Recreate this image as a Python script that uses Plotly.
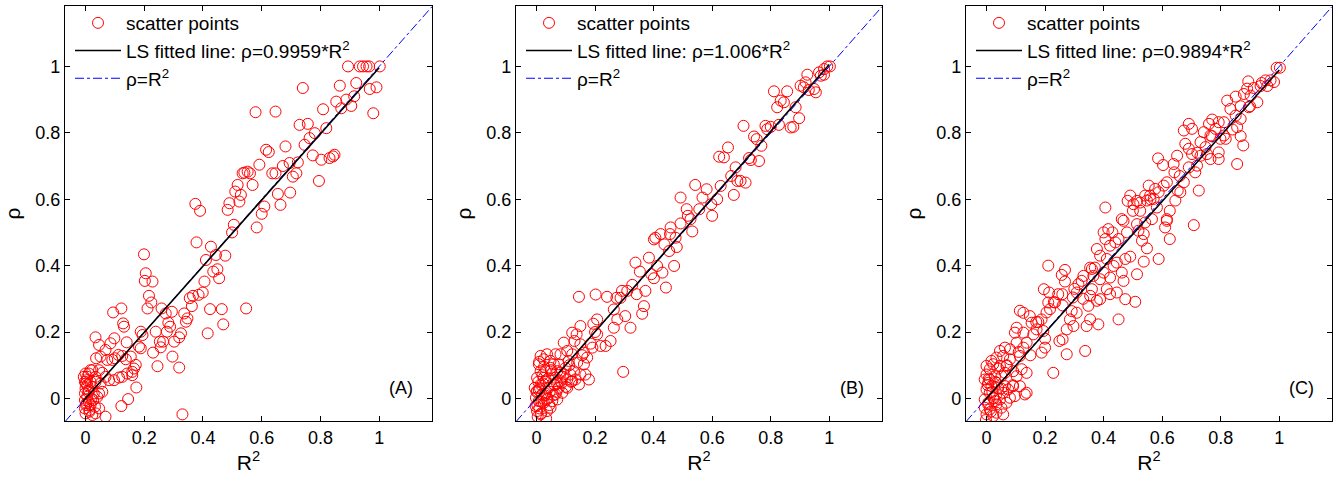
import plotly.graph_objects as go

# ---------------- data ----------------
panel_labels = ["(A)", "(B)", "(C)"]
fit_slopes = [0.9959, 1.006, 0.9894]
fit_slope_text = ["0.9959", "1.006", "0.9894"]
tick_vals = [0, 0.2, 0.4, 0.6, 0.8, 1]
tick_text = ["0", "0.2", "0.4", "0.6", "0.8", "1"]
axis_range_x = [-0.07, 1.18]
axis_range_y = [-0.068, 1.182]
fit_x = [-0.01, 1.0]
diag_x = [-0.07, 1.18]

a_r2 = [0.894, 0.934, 0.945, 0.957, 0.966, 1.002, 0.922, 0.866, 0.74, 0.968, 0.991, 0.98, 0.579, 0.647,
        0.915, 0.854, 0.888, 0.905, 0.871, 0.809, 0.82, 0.729, 0.757, 0.763, 0.781, 0.746, 0.774, 0.803,
        0.831, 0.843, 0.848, 0.795, 0.681, 0.615, 0.624, 0.592, 0.672, 0.695, 0.723, 0.718, 0.706, 0.697,
        0.655, 0.664, 0.636, 0.647, 0.609, 0.6, 0.583, 0.569, 0.56, 0.552, 0.541, 0.535, 0.518, 0.51,
        0.529, 0.524, 0.49, 0.484, 0.505, 0.499, 0.374, 0.39, 0.378, 0.427, 0.41, 0.444, 0.476, 0.449,
        0.435, 0.455, 0.405, 0.399, 0.385, 0.366, 0.355, 0.362, 0.336, 0.347, 0.342, 0.424, 0.464, 0.547,
        0.469, 0.416, 0.325, 0.319, 0.302, 0.296, 0.319, 0.33, 0.199, 0.205, 0.202, 0.228, 0.216, 0.224,
        0.211, 0.122, 0.094, 0.128, 0.131, 0.259, 0.273, 0.294, 0.282, 0.288, 0.277, 0.239, 0.253, 0.264,
        0.256, 0.23, 0.245, 0.188, 0.194, 0.182, 0.188, 0.14, 0.098, 0.085, 0.034, 0.046, 0.068, 0.051,
        0.036, 0.074, 0.091, 0.1, 0.112, 0.125, 0.137, 0.154, 0.171, 0.165, 0.159, 0.159, 0.142, 0.125,
        0.114, 0.097, 0.08, 0.068, 0.057, 0.046, 0.023, 0.034, 0.051, 0.057, 0.046, 0.173, 0.145, 0.122,
        0.068, 0.034, 0.046, -0.006, 0.0, 0.006, -0.002, 0.006, 0.0, 0.011, -0.002, 0.006, -0.002, 0.011,
        0.002, -0.002, 0.014, 0.0, 0.023, 0.017, 0.023, 0.028, 0.026, 0.011, 0.017, 0.034, 0.04, 0.017,
        0.032, 0.004, 0.009, 0.003, 0.013, 0.02, 0.001]
a_rho = [1.0, 1.0, 1.0, 1.0, 1.0, 1.0, 0.95, 0.942, 0.935, 0.932, 0.937, 0.859, 0.862, 0.864,
         0.91, 0.894, 0.9, 0.881, 0.874, 0.871, 0.814, 0.824, 0.827, 0.784, 0.799, 0.764, 0.732, 0.719,
         0.724, 0.729, 0.734, 0.655, 0.759, 0.749, 0.742, 0.704, 0.7, 0.709, 0.711, 0.678, 0.668, 0.62,
         0.616, 0.583, 0.678, 0.678, 0.578, 0.556, 0.515, 0.643, 0.678, 0.683, 0.68, 0.678, 0.643, 0.623,
         0.613, 0.593, 0.588, 0.568, 0.523, 0.5, 0.586, 0.565, 0.47, 0.457, 0.417, 0.432, 0.43, 0.389,
         0.382, 0.362, 0.352, 0.319, 0.312, 0.309, 0.302, 0.278, 0.256, 0.241, 0.231, 0.269, 0.269, 0.271,
         0.223, 0.196, 0.196, 0.184, 0.171, 0.126, 0.093, -0.048, 0.434, 0.377, 0.354, 0.352, 0.309, 0.289,
         0.271, 0.271, 0.259, 0.226, 0.216, 0.271, 0.256, 0.261, 0.228, 0.216, 0.201, 0.201, 0.171, 0.171,
         0.154, 0.138, 0.097, 0.201, 0.191, 0.156, 0.151, 0.169, 0.181, 0.166, 0.184, 0.161, 0.146, 0.126,
         0.121, 0.116, 0.116, 0.121, 0.131, 0.128, 0.118, 0.126, 0.101, 0.09, 0.08, 0.07, 0.075, 0.065,
         0.063, 0.055, 0.055, 0.065, 0.077, 0.085, 0.085, 0.05, 0.045, 0.02, 0.015, 0.033, -0.002, -0.023,
         -0.055, -0.045, -0.03, 0.065, 0.075, 0.065, 0.05, 0.04, 0.03, 0.025, 0.015, 0.005, -0.005, -0.01,
         -0.02, -0.03, -0.035, -0.045, -0.05, 0.05, 0.035, 0.015, -0.005, 0.075, 0.085, 0.065, 0.005, -0.02,
         -0.025, 0.055, 0.02, -0.015, -0.04, 0.0, 0.045]

b_r2 = [0.993, 1.002, 0.982, 0.965, 0.971, 0.982, 0.925, 0.919, 0.902, 0.913, 0.948, 0.954, 0.93, 0.811,
        0.856, 0.834, 0.845, 0.822, 0.885, 0.897, 0.868, 0.877, 0.828, 0.782, 0.788, 0.8, 0.707, 0.743,
        0.752, 0.768, 0.76, 0.732, 0.726, 0.654, 0.624, 0.64, 0.68, 0.665, 0.697, 0.714, 0.686, 0.674,
        0.629, 0.617, 0.597, 0.581, 0.567, 0.556, 0.6, 0.542, 0.492, 0.513, 0.517, 0.532, 0.526, 0.492,
        0.475, 0.458, 0.456, 0.424, 0.406, 0.401, 0.437, 0.453, 0.479, 0.47, 0.442, 0.43, 0.412, 0.401,
        0.392, 0.384, 0.372, 0.361, 0.367, 0.353, 0.338, 0.342, 0.327, 0.31, 0.292, 0.303, 0.321, 0.296,
        0.287, 0.273, 0.264, 0.276, 0.264, 0.253, 0.241, 0.202, 0.145, 0.207, 0.194, 0.207, 0.219, 0.236,
        0.191, 0.15, 0.137, 0.122, 0.13, 0.15, 0.162, 0.173, 0.093, 0.105, 0.082, 0.065, 0.036, 0.008,
        0.048, 0.076, 0.099, 0.128, 0.15, 0.179, 0.167, 0.145, 0.122, 0.105, 0.088, 0.065, 0.071, 0.048,
        0.036, 0.025, 0.014, 0.002, 0.059, 0.042, 0.025, 0.014, 0.002, 0.008, -0.003, 0.019, 0.031, 0.065,
        0.082, 0.093, 0.116, 0.133, 0.048, 0.071, 0.002, -0.006, -0.002, 0.014, 0.031, 0.054, 0.036, 0.076,
        0.105, 0.082, 0.059, 0.025, 0.014, 0.11, 0.139, 0.122, 0.162, 0.004, 0.01, 0.02, 0.028, 0.006,
        0.016, 0.038, 0.045, 0.052, 0.003, 0.022, 0.012, 0.033, 0.058, 0.07, 0.09, 0.044, 0.026, 0.008,
        0.0, 0.017, 0.04, 0.062, 0.085, 0.1, 0.118, 0.009, 0.03, 0.05, 0.068, 0.112, 0.156, 0.185, 0.2]
b_rho = [1.0, 1.0, 0.992, 0.982, 0.972, 0.975, 0.975, 0.952, 0.942, 0.937, 0.932, 0.922, 0.929, 0.925,
         0.925, 0.897, 0.892, 0.877, 0.877, 0.844, 0.816, 0.818, 0.824, 0.821, 0.811, 0.818, 0.821, 0.789,
         0.781, 0.761, 0.715, 0.718, 0.724, 0.756, 0.728, 0.726, 0.696, 0.67, 0.655, 0.65, 0.655, 0.613,
         0.64, 0.6, 0.585, 0.63, 0.605, 0.57, 0.55, 0.643, 0.605, 0.57, 0.55, 0.503, 0.54, 0.527,
         0.484, 0.515, 0.495, 0.495, 0.484, 0.479, 0.464, 0.444, 0.456, 0.399, 0.334, 0.379, 0.399, 0.362,
         0.374, 0.424, 0.324, 0.255, 0.278, 0.382, 0.409, 0.314, 0.342, 0.324, 0.324, 0.248, 0.213, 0.08,
         0.303, 0.303, 0.268, 0.238, 0.213, 0.173, 0.306, 0.313, 0.306, 0.238, 0.225, 0.193, 0.158, 0.158,
         0.153, 0.218, 0.193, 0.198, 0.173, 0.163, 0.138, 0.123, 0.168, 0.143, 0.133, 0.133, 0.133, 0.103,
         0.113, 0.103, 0.092, 0.082, 0.072, 0.057, 0.072, 0.042, 0.052, 0.032, 0.017, 0.012, -0.003, -0.028,
         -0.038, -0.013, -0.048, -0.038, 0.042, 0.032, 0.062, 0.042, 0.022, -0.008, -0.023, 0.012, 0.082, 0.062,
         0.052, 0.072, 0.072, 0.057, 0.092, 0.082, 0.062, 0.032, 0.002, 0.082, 0.052, -0.008, -0.003, 0.032,
         0.057, 0.078, 0.103, 0.118, 0.128, 0.113, 0.108, 0.133, 0.103, -0.055, -0.03, 0.07, 0.01, 0.05,
         -0.045, 0.0, 0.02, 0.075, -0.02, 0.045, 0.03, -0.06, 0.01, 0.045, 0.065, -0.02, 0.095, 0.025,
         0.02, -0.01, 0.06, 0.04, 0.045, 0.035, 0.05, 0.11, 0.015, 0.085, 0.02, 0.1, 0.13, 0.165, 0.2]

c_r2 = [0.991, 1.002, 0.982, 0.97, 0.953, 0.959, 0.936, 0.894, 0.913, 0.89, 0.879, 0.851, 0.822, 0.902,
        0.925, 0.896, 0.868, 0.851, 0.868, 0.833, 0.811, 0.793, 0.771, 0.76, 0.782, 0.856, 0.868, 0.877,
        0.856, 0.811, 0.817, 0.799, 0.765, 0.742, 0.731, 0.748, 0.793, 0.793, 0.765, 0.753, 0.731, 0.702,
        0.691, 0.674, 0.702, 0.679, 0.691, 0.651, 0.639, 0.603, 0.586, 0.691, 0.719, 0.713, 0.725, 0.708,
        0.674, 0.662, 0.645, 0.653, 0.642, 0.616, 0.605, 0.588, 0.571, 0.559, 0.576, 0.554, 0.542, 0.525,
        0.514, 0.525, 0.542, 0.502, 0.491, 0.482, 0.5, 0.468, 0.462, 0.514, 0.519, 0.537, 0.531, 0.548,
        0.548, 0.626, 0.616, 0.61, 0.626, 0.588, 0.565, 0.616, 0.582, 0.537, 0.514, 0.508, 0.474, 0.468,
        0.462, 0.491, 0.474, 0.445, 0.434, 0.422, 0.411, 0.422, 0.445, 0.451, 0.4, 0.416, 0.43, 0.406,
        0.406, 0.422, 0.44, 0.451, 0.377, 0.388, 0.411, 0.37, 0.354, 0.365, 0.388, 0.4, 0.36, 0.354,
        0.388, 0.377, 0.348, 0.382, 0.354, 0.342, 0.337, 0.331, 0.325, 0.314, 0.308, 0.295, 0.308, 0.291,
        0.285, 0.297, 0.274, 0.26, 0.249, 0.257, 0.268, 0.268, 0.259, 0.245, 0.234, 0.211, 0.217, 0.205,
        0.196, 0.211, 0.214, 0.188, 0.177, 0.171, 0.16, 0.194, 0.2, 0.188, 0.228, 0.274, 0.148, 0.114,
        0.126, 0.103, 0.097, 0.126, 0.154, 0.137, 0.126, 0.114, 0.103, 0.08, 0.063, 0.046, 0.034, 0.057,
        0.08, 0.068, 0.046, 0.023, 0.011, 0.0, 0.011, 0.029, 0.034, 0.051, 0.063, 0.091, 0.103, 0.12,
        0.137, 0.131, 0.137, 0.114, 0.091, 0.074, 0.057, 0.034, 0.011, 0.0, -0.006, 0.006, 0.011, 0.0,
        -0.002, 0.023, 0.034, 0.057, 0.051, 0.034, 0.023, 0.046, 0.068, 0.08, 0.097, 0.063, 0.04, 0.017,
        0.006, -0.006, 0.0, 0.017, 0.006, -0.006, 0.029, 0.004, 0.015, 0.025, 0.04, 0.008, 0.02, 0.03,
        0.05, 0.07, 0.09, 0.11, 0.15, 0.17, 0.2, 0.23, 0.26, 0.3, 0.33, 0.36, 0.48, 0.56, 0.66, 0.72,
        0.77, 0.84, 0.9, 0.94]
c_rho = [0.996, 0.996, 0.953, 0.958, 0.958, 0.941, 0.941, 0.955, 0.935, 0.933, 0.917, 0.909, 0.897, 0.912,
         0.892, 0.877, 0.88, 0.852, 0.842, 0.872, 0.832, 0.832, 0.84, 0.827, 0.812, 0.817, 0.79, 0.762,
         0.706, 0.792, 0.782, 0.782, 0.792, 0.802, 0.772, 0.757, 0.741, 0.721, 0.721, 0.736, 0.731, 0.736,
         0.827, 0.807, 0.812, 0.767, 0.752, 0.731, 0.706, 0.703, 0.723, 0.696, 0.701, 0.681, 0.626, 0.522,
         0.651, 0.621, 0.596, 0.626, 0.681, 0.651, 0.641, 0.621, 0.601, 0.611, 0.631, 0.641, 0.611, 0.59,
         0.595, 0.565, 0.53, 0.585, 0.611, 0.595, 0.565, 0.535, 0.54, 0.525, 0.505, 0.495, 0.475, 0.452,
         0.596, 0.565, 0.535, 0.515, 0.48, 0.42, 0.54, 0.54, 0.575, 0.412, 0.374, 0.291, 0.299, 0.354,
         0.379, 0.427, 0.42, 0.409, 0.399, 0.364, 0.329, 0.314, 0.319, 0.238, 0.5, 0.51, 0.5, 0.48,
         0.575, 0.46, 0.47, 0.48, 0.45, 0.43, 0.42, 0.394, 0.394, 0.369, 0.359, 0.379, 0.329, 0.309,
         0.299, 0.294, 0.279, 0.223, 0.238, 0.218, 0.143, 0.369, 0.354, 0.344, 0.319, 0.304, 0.258, 0.263,
         0.238, 0.218, 0.208, 0.178, 0.173, 0.372, 0.387, 0.352, 0.314, 0.314, 0.289, 0.289, 0.269, 0.259,
         0.329, 0.4, 0.319, 0.238, 0.23, 0.208, 0.193, 0.203, 0.153, 0.138, 0.077, 0.133, 0.248, 0.264,
         0.258, 0.213, 0.198, 0.198, 0.228, 0.168, 0.153, 0.128, 0.168, 0.148, 0.153, 0.143, 0.123, 0.128,
         0.118, 0.098, 0.098, 0.103, 0.088, 0.072, 0.057, 0.067, 0.047, 0.067, 0.077, 0.082, 0.067, 0.088,
         0.077, 0.012, 0.017, 0.037, 0.037, 0.027, 0.017, 0.012, 0.017, 0.027, -0.003, -0.013, -0.033, -0.048,
         -0.065, -0.053, -0.043, -0.048, -0.028, -0.018, 0.002, -0.003, -0.013, 0.002, 0.007, 0.037, 0.032, 0.037,
         0.047, 0.057, 0.098, 0.113, -0.018, -0.028, -0.008, 0.04, -0.04, 0.0, 0.09, 0.06, 0.02, 0.05,
         0.03, 0.1, 0.04, 0.14, 0.13, 0.23, 0.18, 0.29, 0.28, 0.33, 0.3, 0.39, 0.5, 0.6, 0.67, 0.74,
         0.79, 0.81, 0.88, 0.95]

panels_r2 = [a_r2, b_r2, c_r2]
panels_rho = [a_rho, b_rho, c_rho]

# ---------------- layout geometry ----------------
W, H = 1338, 481
x_doms = [(65 / W, 432 / W), (516 / W, 882 / W), (966 / W, 1332 / W)]
y_dom = (1 - 421 / H, 1 - 6 / H)
FONT = "Liberation Sans, Arial, Helvetica, sans-serif"

fig = go.Figure()
for i in range(3):
    xa = "x" if i == 0 else f"x{i + 1}"
    ya = "y" if i == 0 else f"y{i + 1}"
    lg = "legend" if i == 0 else f"legend{i + 1}"
    fig.add_trace(go.Scatter(
        x=panels_r2[i], y=panels_rho[i], mode="markers", name="scatter points",
        marker=dict(symbol="circle-open", size=11, color="#ff0000", line=dict(width=1, color="#ff0000")),
        xaxis=xa, yaxis=ya, legend=lg, legendgroup=f"s{i}", legendrank=1))
    fig.add_trace(go.Scatter(
        x=diag_x, y=diag_x, mode="lines", name="\u03c1=R<sup>2</sup>",
        line=dict(color="#0000ff", width=1, dash="dashdot"),
        xaxis=xa, yaxis=ya, legend=lg, legendgroup=f"d{i}", legendrank=3))
    fig.add_trace(go.Scatter(
        x=fit_x, y=[fit_slopes[i] * v for v in fit_x], mode="lines",
        name=f"LS fitted line: \u03c1={fit_slope_text[i]}*R<sup>2</sup>",
        line=dict(color="#000000", width=1.6),
        xaxis=xa, yaxis=ya, legend=lg, legendgroup=f"f{i}", legendrank=2))

axis_common = dict(
    tickmode="array", tickvals=tick_vals, ticktext=tick_text,
    ticks="inside", ticklen=5, tickcolor="#000000", tickwidth=1,
    showline=True, linecolor="#000000", linewidth=1.2, mirror="allticks",
    showgrid=False, zeroline=False,
    tickfont=dict(family=FONT, size=18, color="#000000"),
)

layout = dict(
    width=W, height=H, margin=dict(l=0, r=0, t=0, b=0),
    paper_bgcolor="white", plot_bgcolor="white",
    font=dict(family=FONT, color="#000000"),
    showlegend=True,
)
for i in range(3):
    sx = "xaxis" if i == 0 else f"xaxis{i + 1}"
    sy = "yaxis" if i == 0 else f"yaxis{i + 1}"
    ya = "y" if i == 0 else f"y{i + 1}"
    xa = "x" if i == 0 else f"x{i + 1}"
    layout[sx] = dict(axis_common, domain=list(x_doms[i]), range=axis_range_x, anchor=ya,
                      title=dict(text="R<sup>2</sup>", font=dict(family=FONT, size=21), standoff=2))
    layout[sy] = dict(axis_common, domain=list(y_dom), range=axis_range_y, anchor=xa,
                      title=dict(text="\u03c1", font=dict(family=FONT, size=21), standoff=8))
    lg = "legend" if i == 0 else f"legend{i + 1}"
    layout[lg] = dict(
        x=x_doms[i][0] + 5 / W, y=1 - 4 / H, xanchor="left", yanchor="top",
        bgcolor="rgba(0,0,0,0)", borderwidth=0, tracegroupgap=12, itemwidth=46,
        font=dict(family=FONT, size=19, color="#000000"), traceorder="normal",
    )
fig.update_layout(**layout)

for i in range(3):
    xa = "x" if i == 0 else f"x{i + 1}"
    ya = "y" if i == 0 else f"y{i + 1}"
    fig.add_annotation(x=1.076, y=0.032, xref=xa, yref=ya, text=panel_labels[i], showarrow=False,
                       font=dict(family=FONT, size=18, color="#000000"))

fig.write_html("out.html", config={"displayModeBar": False},
               post_script="document.body.style.margin='0';")
